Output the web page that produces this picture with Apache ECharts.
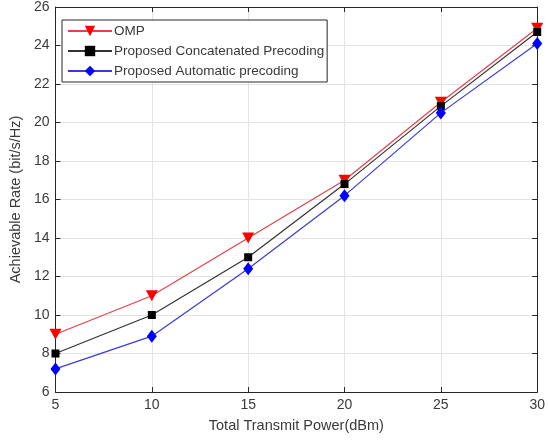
<!DOCTYPE html>
<html>
<head>
<meta charset="utf-8">
<script src="https://cdn.jsdelivr.net/npm/echarts@6/dist/echarts.min.js"></script>
<style>
  html, body { margin: 0; padding: 0; background: #fff; }
  #main { width: 548px; height: 442px; }
</style>
</head>
<body>
<div id="main"></div>
<script>
// x 轴: 发射功率 (dBm)
var powerDbm = [5, 10, 15, 20, 25, 30];
// 三条曲线
var ompRate = [9.0, 11.0, 14.0, 17.0, 21.05, 24.9];
var concatRate = [8.0, 10.0, 13.0, 16.8, 20.85, 24.7];
var autoRate = [7.2, 8.9, 12.4, 16.2, 20.5, 24.1];

function pairs(xs, ys) {
    var out = [];
    for (let i = 0; i < xs.length; i++) {
        out.push([xs[i], ys[i]]);
    }
    return out;
}

var myChart = echarts.init(document.getElementById('main'));
var fontName = 'Liberation Sans';
var textColor = '#3a3a3a';
var boxAxis = {
    axisLine: { show: true, lineStyle: { color: '#262626', width: 1 } },
    axisTick: { show: true, inside: true, length: 5, lineStyle: { color: '#262626' } },
    axisLabel: { show: false },
    splitLine: { show: false }
};

option = {
    animation: false,
    backgroundColor: '#fff',
    textStyle: { fontFamily: fontName },
    grid: { left: 52, right: 7, top: 7, bottom: 50 },
    legend: {
        orient: 'vertical',
        left: 62,
        top: 20,
        itemGap: 6,
        itemWidth: 44,
        itemHeight: 13,
        padding: [4, 3, 4, 5],
        borderColor: '#262626',
        borderWidth: 1,
        backgroundColor: '#fff',
        textStyle: { fontFamily: fontName, fontSize: 13.5, color: textColor, padding: [0, 0, 0, -3] },
        data: ['OMP', 'Proposed Concatenated Precoding', 'Proposed Automatic precoding']
    },
    xAxis: [{
        type: 'value',
        min: 5,
        max: 30,
        interval: 5,
        name: 'Total Transmit Power(dBm)',
        nameLocation: 'middle',
        nameGap: 26,
        nameTextStyle: { fontSize: 14.5, color: textColor },
        axisLine: { show: true, lineStyle: { color: '#262626' } },
        axisTick: { show: true, inside: true, length: 5, lineStyle: { color: '#262626' } },
        axisLabel: { fontSize: 14, color: textColor, margin: 6 },
        splitLine: { show: true, lineStyle: { color: '#e3e3e3', width: 1 } }
    }, Object.assign({ type: 'value', position: 'top', min: 5, max: 30, interval: 5 }, boxAxis)],
    yAxis: [{
        type: 'value',
        min: 6,
        max: 26,
        interval: 2,
        name: 'Achievable Rate (bit/s/Hz)',
        nameLocation: 'middle',
        nameGap: 30,
        nameTextStyle: { fontSize: 14.5, color: textColor },
        axisLine: { show: true, lineStyle: { color: '#262626' } },
        axisTick: { show: true, inside: true, length: 5, lineStyle: { color: '#262626' } },
        axisLabel: { fontSize: 14, color: textColor, margin: 6 },
        splitLine: { show: true, lineStyle: { color: '#e3e3e3', width: 1 } }
    }, Object.assign({ type: 'value', position: 'right', min: 6, max: 26, interval: 2 }, boxAxis)],
    series: [
        {
            name: 'OMP',
            type: 'line',
            data: pairs(powerDbm, ompRate),
            symbol: 'triangle',
            symbolRotate: 180,
            symbolSize: [12, 11],
            lineStyle: { color: '#e8404a', width: 1.2 },
            itemStyle: { color: '#ff0000' },
            z: 3
        },
        {
            name: 'Proposed Concatenated Precoding',
            type: 'line',
            data: pairs(powerDbm, concatRate),
            symbol: 'rect',
            symbolSize: 8,
            lineStyle: { color: '#333333', width: 1.2 },
            itemStyle: { color: '#000000' },
            z: 4
        },
        {
            name: 'Proposed Automatic precoding',
            type: 'line',
            data: pairs(powerDbm, autoRate),
            symbol: 'diamond',
            symbolSize: [10, 13],
            lineStyle: { color: '#3b3bd6', width: 1.2 },
            itemStyle: { color: '#0000ff' },
            z: 5
        }
    ]
};
myChart.setOption(option);
</script>
</body>
</html>
